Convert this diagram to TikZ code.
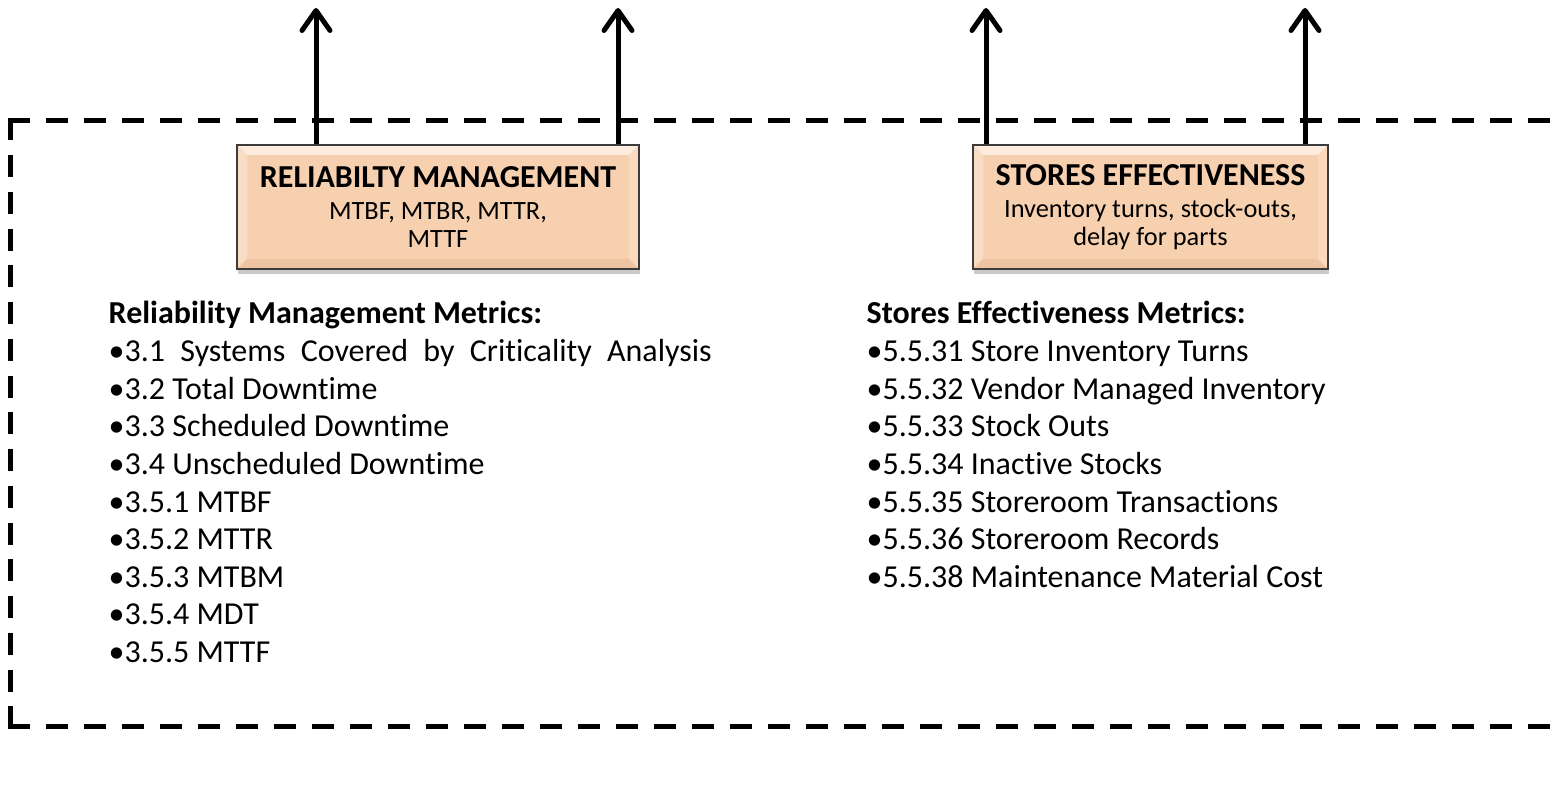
\documentclass[tikz,border=0pt]{standalone}
\usepackage{fontspec}
\setmainfont{Carlito}[Ligatures=NoCommon]
\usetikzlibrary{arrows.meta, shadows}

\definecolor{boxfill}{RGB}{247,208,176}
\definecolor{bevtop}{RGB}{253,236,222}
\definecolor{bevleft}{RGB}{249,220,196}
\definecolor{bevbot}{RGB}{238,196,162}
\definecolor{bevright}{RGB}{252,217,189}
\definecolor{boxline}{RGB}{60,60,60}

\tikzset{
    bevelbox/.style={draw=boxline, line width=0.015cm, fill=boxfill,
        minimum height=1.24cm, inner sep=0pt, align=center,
        font=\fontsize{7.5}{8}\selectfont,
        drop shadow={shadow xshift=0.01cm, shadow yshift=-0.05cm, fill=black!70, opacity=0.3},
        path picture={
            \coordinate (bnw) at (path picture bounding box.north west);
            \coordinate (bne) at (path picture bounding box.north east);
            \coordinate (bsw) at (path picture bounding box.south west);
            \coordinate (bse) at (path picture bounding box.south east);
            \fill[bevtop] (bnw) -- (bne) -- ([shift={(-0.1,-0.1)}]bne) -- ([shift={(0.1,-0.1)}]bnw) -- cycle;
            \fill[bevleft] (bnw) -- (bsw) -- ([shift={(0.1,0.1)}]bsw) -- ([shift={(0.1,-0.1)}]bnw) -- cycle;
            \fill[bevbot] (bsw) -- (bse) -- ([shift={(-0.1,0.1)}]bse) -- ([shift={(0.1,0.1)}]bsw) -- cycle;
            \fill[bevright] (bne) -- (bse) -- ([shift={(-0.1,0.1)}]bse) -- ([shift={(-0.1,-0.1)}]bne) -- cycle;
        }},
    metric/.style={anchor=base west, inner sep=0pt, font=\fontsize{9.1}{10.7}\selectfont},
    uparrow/.style={line width=0.05cm, -{Straight Barb[length=0.2cm, width=0.28cm, round]}},
    frame/.style={line width=0.05cm, dash pattern=on 0.17cm off 0.21cm, line cap=rect}
}
\newcommand{\boxhead}[1]{{\fontsize{9.1}{9}\selectfont\bfseries #1}}

\begin{document}
\begin{tikzpicture}
    \useasboundingbox (0,0) rectangle (15.54,7.85);

    % dashed frame, open to the right
    \draw[frame] (0.10,6.64) -- (15.54,6.64);
    \draw[frame, dash pattern=on 0.17cm off 0.1975cm] (0.10,6.64) -- (0.10,0.59);
    \draw[frame] (0.10,0.59) -- (15.54,0.59);

    % the two boxes
    \node[bevelbox, minimum width=4.02cm] (rm) at (4.38,5.78)
        {\boxhead{RELIABILTY MANAGEMENT}\\[0.04cm] MTBF, MTBR, MTTR,\\ MTTF};
    \node[bevelbox, minimum width=3.55cm] (se) at (11.505,5.78)
        {\boxhead{STORES EFFECTIVENESS}\\[0.04cm] Inventory turns, stock-outs,\\ delay for parts};

    % arrows going up out of the frame
    \coordinate (a1) at (3.16,7.77);
    \coordinate (a2) at (6.18,7.77);
    \coordinate (a3) at (9.86,7.77);
    \coordinate (a4) at (13.05,7.77);
    \draw[uparrow] (a1 |- rm.north) -- (a1);
    \draw[uparrow] (a2 |- rm.north) -- (a2);
    \draw[uparrow] (a3 |- se.north) -- (a3);
    \draw[uparrow] (a4 |- se.north) -- (a4);

    % metric lists
    \node[metric, font=\fontsize{9.1}{10.7}\selectfont\bfseries] (rmhead) at (1.08,4.61) {Reliability Management Metrics:};
    \foreach \t [count=\i] in {{\makebox[6.03cm][s]{•3.1 Systems Covered by Criticality Analysis}},
        •3.2 Total Downtime, •3.3 Scheduled Downtime, •3.4 Unscheduled Downtime,
        •3.5.1 MTBF, •3.5.2 MTTR, •3.5.3 MTBM, •3.5.4 MDT, •3.5.5 MTTF}
        \node[metric] (rm\i) at (1.08,{4.61-0.376*\i}) {\t};

    \node[metric, font=\fontsize{9.1}{10.7}\selectfont\bfseries] (sehead) at (8.66,4.61) {Stores Effectiveness Metrics:};
    \foreach \t [count=\i] in {•5.5.31 Store Inventory Turns, •5.5.32 Vendor Managed Inventory,
        •5.5.33 Stock Outs, •5.5.34 Inactive Stocks, •5.5.35 Storeroom Transactions,
        •5.5.36 Storeroom Records, •5.5.38 Maintenance Material Cost}
        \node[metric] (se\i) at (8.66,{4.61-0.376*\i}) {\t};
\end{tikzpicture}
\end{document}
